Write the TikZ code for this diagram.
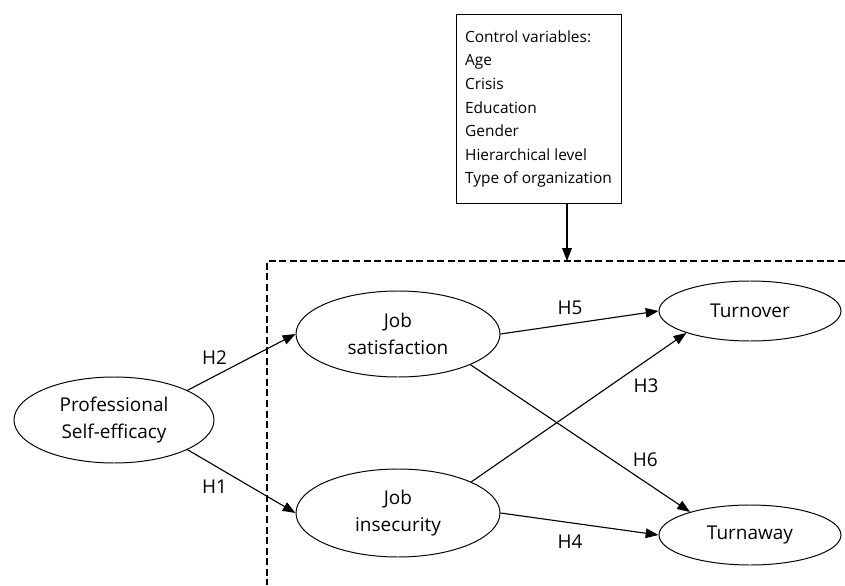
\documentclass[tikz,border=0pt]{standalone}
\usepackage{fontspec}
\setmainfont{Open Sans}
\usetikzlibrary{arrows.meta, positioning, shapes.geometric}

\begin{document}
\begin{tikzpicture}[
  var/.style={draw, ellipse, line width=0.7pt, align=center, inner sep=0pt, font=\fontsize{13.5}{19}\selectfont},
  ctrlbox/.style={draw, line width=0.7pt, align=left, minimum width=4.125cm, minimum height=4.725cm, font=\fontsize{11}{16.8}\selectfont},
  edge/.style={-{Triangle[length=3.2mm,width=2.4mm]}, line width=0.8pt},
  hyp/.style={font=\fontsize{13.5}{15}\selectfont, inner sep=2pt},
  frame/.style={dash pattern=on 5pt off 2.5pt, line width=0.8pt}
]
\useasboundingbox (0,0) rectangle (21.125,14.625);

% Control variables on top
\node[ctrlbox] (ctrl) at (13.4625,11.9) {Control variables:\\Age\\Crisis\\Education\\Gender\\Hierarchical level\\Type of organization};

% Moderated region
\coordinate (mod) at (14.175,8.1);
\draw[frame] (21.125,8.1) -- (6.675,8.1) -- (6.675,0);
\draw[edge] (ctrl.south -| mod) -- (mod);

% Constructs
\node[var, minimum width=5.0cm, minimum height=2.15cm] (pse) at (2.85,4.125) {Professional\\Self-efficacy};
\node[var, minimum width=5.1cm, minimum height=2.15cm] (js) at (9.95,6.275) {Job\\satisfaction};
\node[var, minimum width=5.1cm, minimum height=2.2cm] (ji) at (9.95,1.8) {Job\\insecurity};
\node[var, minimum width=4.55cm, minimum height=1.5cm] (tover) at (18.75,6.85) {Turnover};
\node[var, minimum width=4.55cm, minimum height=1.5cm] (taway) at (18.75,1.25) {Turnaway};

% Hypotheses
\draw[edge] (pse.22) -- node[hyp, pos=0.25, above=6pt] {H2} (js.west);
\draw[edge] (pse.-22) -- node[hyp, pos=0.25, below=8pt] {H1} (ji.west);
\draw[edge] (js.east) -- node[hyp, pos=0.44, above=4pt] {H5} (tover.west);
\draw[edge] (ji.east) -- node[hyp, pos=0.44, below=6pt] {H4} (taway.west);
\draw[edge] (ji.23) -- node[hyp, pos=0.73, below right=2pt] {H3} (tover.199);
\draw[edge] (js.-23) -- node[hyp, pos=0.72, above right=1pt] {H6} (taway.159);
\end{tikzpicture}
\end{document}
